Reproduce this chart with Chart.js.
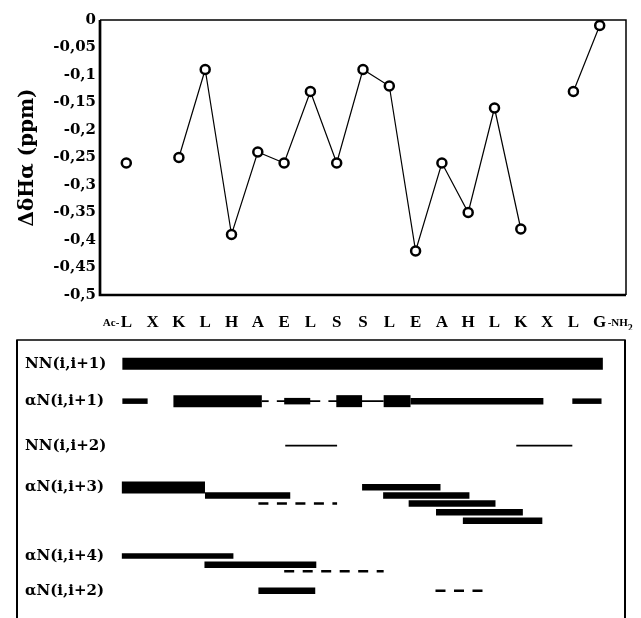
<!DOCTYPE html>
<html>
<head>
<meta charset="utf-8">
<script src="https://cdn.jsdelivr.net/npm/chart.js@4"></script>
<style>
body { margin: 0; background: #fff; }
#wrap { position: relative; width: 641px; height: 618px; overflow: hidden; }
#top { position: absolute; left: 0; top: 0; }
#noe { position: absolute; left: 0; top: 330px; }
</style>
</head>
<body>
<div id="wrap">
<canvas id="top" width="641" height="330"></canvas>
<canvas id="noe" width="641" height="288"></canvas>
</div>
<script>
// peptide sequence (Ac- ... -NH2)
const residues = ['L','X','K','L','H','A','E','L','S','S','L','E','A','H','L','K','X','L','G'];
// delta H-alpha chemical shift, ppm (null = no value)
const shifts = [-0.26, null, -0.25, -0.09, -0.39, -0.24, -0.26, -0.13, -0.26, -0.09,
                -0.12, -0.42, -0.26, -0.35, -0.16, -0.38, null, -0.13, -0.01];

// NOE connectivities panel
const noeRows  = ['NN(i,i+1)', 'αN(i,i+1)', 'NN(i,i+2)', 'αN(i,i+3)', 'αN(i,i+4)', 'αN(i,i+2)'];
const noeLanes = [2.85, 7.35, 12.7, 17.73, 25.97, 30.15];
// [lane, from residue, to residue, intensity]
const noeSegments = [
  [2.85, -0.14, 18.12, 'strong'],

  [7.35, -0.14, 0.82, 'weak'],
  [7.35, 1.8, 5.16, 'strong'],
  [7.35, 5.16, 5.42, 'line'],
  [7.35, 5.73, 7.38, 'line'],
  [7.35, 6.01, 7.0, 'medium'],
  [7.35, 7.69, 9.79, 'line'],
  [7.35, 7.99, 8.97, 'strong'],
  [7.35, 9.79, 10.81, 'strong'],
  [7.35, 10.81, 15.86, 'medium'],
  [7.35, 16.96, 18.07, 'weak'],

  [12.7, 6.05, 8.02, 'line'],
  [12.7, 14.83, 16.96, 'line'],

  [17.73, -0.16, 3.0, 'strong'],
  [18.69, 3.0, 6.24, 'medium'],
  [19.65, 5.03, 8.02, 'dash'],
  [17.7, 8.97, 11.95, 'medium'],
  [18.7, 9.77, 13.05, 'medium'],
  [19.65, 10.74, 14.04, 'medium'],
  [20.7, 11.78, 15.08, 'medium'],
  [21.71, 12.8, 15.82, 'medium'],

  [25.97, -0.16, 4.08, 'weak'],
  [27.0, 2.98, 7.23, 'medium'],
  [27.8, 6.01, 9.79, 'dash'],

  [30.15, 5.03, 7.19, 'medium'],
  [30.15, 11.76, 13.57, 'dash']
];

const noeWidth = { strong: 12, medium: 6.5, weak: 5.5, line: 1.8, dash: 2.5 };
const serif = 'DejaVu Serif';

// frame of the shift plot: heavy left/bottom, thin top/right
const framePlugin = {
  id: 'frame',
  beforeDatasetsDraw(chart) {
    const a = chart.chartArea, ctx = chart.ctx;
    ctx.save();
    ctx.strokeStyle = '#000';
    ctx.lineWidth = 1.5;
    ctx.beginPath();
    ctx.moveTo(a.left, a.top); ctx.lineTo(a.right, a.top); ctx.lineTo(a.right, a.bottom);
    ctx.stroke();
    ctx.lineWidth = 2.7;
    ctx.beginPath();
    ctx.moveTo(a.left, a.top); ctx.lineTo(a.left, a.bottom); ctx.lineTo(a.right, a.bottom);
    ctx.stroke();
    ctx.restore();
  }
};

// Ac- and -NH2 termini around the sequence
const endsPlugin = {
  id: 'ends',
  afterDraw(chart) {
    const ctx = chart.ctx, x = chart.scales.x;
    const y = x.top + 17 + 10;
    ctx.save();
    ctx.fillStyle = '#000';
    ctx.textBaseline = 'alphabetic';
    ctx.font = 'bold 11px "Liberation Serif"';
    ctx.textAlign = 'right';
    ctx.fillText('Ac-', x.getPixelForValue(0) - 7, y + 4);
    ctx.textAlign = 'left';
    const nx = x.getPixelForValue(18) + 8;
    ctx.fillText('-NH', nx, y + 4);
    const w = ctx.measureText('-NH').width;
    ctx.font = 'bold 10px "Liberation Serif"';
    ctx.fillText('2', nx + w, y + 9);
    ctx.restore();
  }
};

new Chart(document.getElementById('top'), {
  type: 'line',
  data: {
    datasets: [{
      data: residues.map((r, i) => ({ x: i, y: shifts[i] })),
      borderColor: '#000',
      borderWidth: 1.2,
      pointRadius: 4.5,
      pointBorderWidth: 2.5,
      pointBackgroundColor: '#fff',
      pointBorderColor: '#000',
      spanGaps: false
    }]
  },
  options: {
    responsive: false,
    animation: false,
    layout: { padding: { top: 20, right: 15, left: 0, bottom: 0 } },
    plugins: { legend: { display: false }, tooltip: { enabled: false } },
    scales: {
      x: {
        type: 'linear', min: -1, max: 19,
        grid: { display: false, drawTicks: false },
        border: { display: false },
        afterBuildTicks: s => { s.ticks = residues.map((r, i) => ({ value: i })); },
        afterFit: s => { s.height = 35; },
        ticks: {
          autoSkip: false, maxRotation: 0, padding: 17, color: '#000',
          font: { family: 'Liberation Serif', size: 17, weight: 'bold' },
          callback: v => residues[v]
        }
      },
      y: {
        min: -0.5, max: 0,
        grid: { display: false, drawTicks: false },
        border: { display: false },
        afterFit: s => { s.width = 100; },
        ticks: {
          stepSize: 0.05, padding: 4, color: '#000',
          font: { family: serif, size: 15, weight: 'bold' },
          callback: v => String(Math.round(v * 100) / 100).replace('.', ',')
        },
        title: {
          display: true, text: 'ΔδHα (ppm)', color: '#000',
          font: { family: serif, size: 20, weight: 'bold' },
          padding: { top: 16, bottom: 0 }
        }
      }
    }
  },
  plugins: [framePlugin, endsPlugin]
});

// box round the connectivity panel
const boxPlugin = {
  id: 'box',
  beforeDraw(chart) {
    const ctx = chart.ctx;
    ctx.save();
    ctx.strokeStyle = '#000';
    ctx.lineWidth = 1.5;
    ctx.beginPath();
    ctx.moveTo(17, 300); ctx.lineTo(17, 10); ctx.lineTo(625, 10); ctx.lineTo(625, 300);
    ctx.stroke();
    ctx.lineWidth = 2;
    ctx.beginPath();
    ctx.moveTo(17, 10); ctx.lineTo(17, 300);
    ctx.moveTo(625, 10); ctx.lineTo(625, 300);
    ctx.stroke();
    ctx.restore();
  }
};

new Chart(document.getElementById('noe'), {
  type: 'line',
  data: {
    datasets: noeSegments.map(s => ({
      data: [{ x: s[1], y: s[0] }, { x: s[2], y: s[0] }],
      borderColor: '#000',
      borderWidth: noeWidth[s[3]],
      borderDash: s[3] === 'dash' ? [10, 8.5] : [],
      borderCapStyle: 'butt',
      pointRadius: 0
    }))
  },
  options: {
    responsive: false,
    animation: false,
    layout: { padding: { top: 10, left: 25, right: 15, bottom: 0 } },
    plugins: { legend: { display: false }, tooltip: { enabled: false } },
    scales: {
      // same residue spacing as the plot above
      x: { type: 'linear', min: -0.42, max: 19, display: false },
      y: {
        min: 0, max: 32.33, reverse: true,
        grid: { display: false, drawTicks: false },
        border: { display: false },
        afterFit: s => { s.width = 90; },
        afterBuildTicks: s => { s.ticks = noeLanes.map(v => ({ value: v })); },
        ticks: {
          autoSkip: false, crossAlign: 'far', padding: 0, color: '#000',
          font: { family: serif, size: 15, weight: 'bold' },
          callback: (v, i) => noeRows[i]
        }
      }
    }
  },
  plugins: [boxPlugin]
});
</script>
</body>
</html>
